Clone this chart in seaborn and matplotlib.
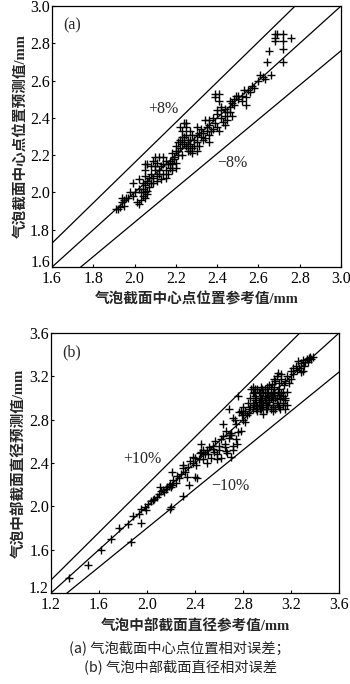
import matplotlib
matplotlib.use("Agg")
import matplotlib.pyplot as plt
import matplotlib.transforms as mtransforms
import seaborn as sns
import numpy as np
import pandas as pd

# ---------------- data (a) ----------------
a_ref = [2.68,2.68,2.68,2.69,2.72,2.72,2.76,2.72,2.65,2.64,2.72,2.66,2.62,2.63,2.61,
         2.55,2.53,2.56,2.58,2.50,2.50,2.52,2.48,2.54,2.47,2.46,2.44,2.42,2.45,2.40,2.39,2.39,2.41,2.41,2.44,2.45,2.43,2.40,2.40,2.41,2.44,2.38,2.36,2.34,2.36,2.35,2.33,2.32,2.32,2.34,2.36,2.31,2.30,2.30,2.29,2.28,2.27,2.25,2.24,2.25,2.23,2.23,2.22,2.24,2.26,2.27,2.28,2.27,2.29,2.25,2.26,2.22,2.21,2.20,2.21,2.19,2.18,2.20,2.18,2.16,2.15,2.14,2.12,2.10,2.11,2.13,2.15,2.16,2.14,2.12,2.13,2.11,2.09,2.10,2.08,2.06,2.05,2.05,2.08,2.07,2.05,2.06,2.05,2.07,2.09,2.04,2.02,2.03,2.05,2.06,2.04,2.03,2.00,1.99,1.98,1.99,2.01,2.02,1.97,1.95,1.94,1.95,1.93,1.92,1.91,1.96,1.94,2.05,2.06,2.18,2.19,2.12,2.17,2.20,2.23,2.30,2.31,2.33,2.36,2.38,2.37,2.42,2.46,2.48,2.49,2.52,2.54,2.57,2.60,2.42,2.47,2.46,2.28,2.30,2.24,2.23,2.21,2.10,2.09,2.14,2.17,2.18,2.02,2.04,2.08,2.11,2.15,2.20,2.26,2.35,2.39,2.25,2.22,2.27]
a_pred = [2.85,2.83,2.81,2.85,2.85,2.81,2.83,2.77,2.76,2.70,2.70,2.63,2.62,2.61,2.63,
          2.55,2.55,2.54,2.56,2.52,2.50,2.49,2.47,2.47,2.48,2.46,2.45,2.46,2.43,2.44,2.51,2.53,2.53,2.49,2.41,2.39,2.38,2.42,2.35,2.33,2.36,2.40,2.39,2.39,2.36,2.33,2.32,2.34,2.30,2.29,2.27,2.32,2.35,2.31,2.28,2.31,2.33,2.35,2.37,2.37,2.33,2.30,2.28,2.27,2.28,2.26,2.24,2.22,2.25,2.25,2.22,2.24,2.22,2.22,2.20,2.18,2.15,2.16,2.12,2.15,2.17,2.19,2.19,2.19,2.16,2.14,2.12,2.10,2.10,2.10,2.07,2.06,2.08,2.12,2.14,2.15,2.15,2.12,2.10,2.08,2.09,2.06,2.04,2.03,2.05,2.02,2.02,2.00,2.00,2.01,1.98,1.96,2.00,1.98,2.00,2.05,1.95,1.94,1.97,1.96,1.95,1.93,1.92,1.91,1.91,1.97,1.97,1.97,1.99,2.21,2.19,2.12,2.13,2.25,2.20,2.27,2.25,2.28,2.31,2.34,2.33,2.40,2.43,2.50,2.52,2.52,2.51,2.57,2.60,2.44,2.41,2.49,2.21,2.22,2.30,2.26,2.27,2.14,2.17,2.15,2.17,2.16,2.07,2.05,2.05,2.09,2.08,2.13,2.24,2.35,2.37,2.31,2.35,2.28]

# ---------------- data (b) ----------------
b_ref = [1.35,1.51,1.62,1.70,1.77,1.84,1.88,1.87,1.95,1.95,1.99,2.01,2.03,2.05,2.08,2.10,2.12,2.11,2.14,2.16,2.18,2.19,2.20,2.21,2.22,2.21,2.20,2.19,2.25,2.28,2.30,2.30,2.32,2.30,2.33,2.35,2.36,2.38,2.38,2.40,2.42,2.40,2.44,2.45,2.45,2.47,2.47,2.48,2.50,2.50,2.52,2.55,2.55,2.57,2.58,2.58,2.60,2.62,2.63,2.63,2.62,2.65,2.65,2.66,2.67,2.68,2.68,2.70,2.70,2.70,2.72,2.72,2.73,2.74,2.75,2.76,2.74,2.77,2.76,2.78,2.79,2.80,2.80,2.82,2.84,2.82,2.85,2.86,2.86,2.88,2.88,2.88,2.88,2.90,2.90,2.92,2.92,2.92,2.94,2.94,2.95,2.96,2.96,2.97,2.98,2.98,3.00,3.00,3.00,3.00,3.02,3.02,3.03,3.04,3.04,3.05,3.05,3.06,3.06,3.07,3.08,3.08,3.08,3.10,3.10,3.10,3.11,3.12,3.12,3.13,3.14,3.15,3.15,3.15,3.17,3.18,3.20,3.20,3.22,3.22,3.24,3.25,3.26,3.27,3.28,3.30,3.30,3.31,3.32,3.33,3.35,3.36,3.37,3.38,3.34,3.28,3.06,3.09,2.95,2.98,3.02,2.87,2.90,3.12,3.13,3.10,3.05,2.93,2.91,3.01,2.99,2.96,2.94,2.85,2.83,2.80,2.78,2.72,2.69,2.66,2.60,2.56,2.53,2.51,2.43,2.41,2.34,2.27,2.24,2.17,2.13,2.06,1.98,1.93,
         2.89,2.93,2.97,3.01,3.05,3.09,3.13,3.17,2.89,2.93,2.97,3.01,3.05,3.09,3.13,3.17,2.91,2.95,2.99,3.03,3.07,3.11,3.15,2.91,2.95,2.99,3.03,3.07,3.11]
b_pred = [1.34,1.46,1.60,1.70,1.80,1.84,1.91,1.67,1.85,1.98,1.97,2.02,2.05,2.06,2.09,2.11,2.14,2.18,2.13,2.16,2.19,2.21,2.18,2.20,2.24,2.32,1.99,1.98,2.28,2.30,2.35,2.38,2.32,2.10,2.27,2.20,2.42,2.40,2.46,2.45,2.26,2.27,2.49,2.50,2.58,2.44,2.52,2.48,2.52,2.40,2.55,2.56,2.53,2.60,2.48,2.44,2.56,2.62,2.76,2.65,2.45,2.58,2.55,2.51,2.49,2.63,2.90,2.68,2.66,2.46,2.56,2.52,2.80,2.76,2.58,2.69,2.62,2.87,3.02,2.70,2.84,2.92,2.80,2.88,2.95,2.78,2.86,3.00,2.92,3.05,3.10,2.90,2.95,3.02,2.98,3.08,2.93,2.88,3.05,3.00,2.96,3.08,2.92,2.85,3.02,2.98,3.05,3.10,2.94,2.90,3.00,2.96,3.08,3.13,3.02,2.92,2.88,3.05,3.10,3.16,3.20,3.00,2.95,3.14,3.08,3.03,2.99,3.22,3.18,3.02,3.12,3.16,2.98,2.90,3.20,3.14,3.18,3.25,3.28,3.22,3.30,3.26,3.34,3.28,3.32,3.35,3.25,3.30,3.33,3.36,3.37,3.38,3.36,3.38,3.33,3.24,3.18,3.23,3.10,3.08,3.12,3.08,3.08,3.05,2.95,2.92,2.98,2.96,2.93,3.02,2.95,3.00,2.90,2.90,2.84,2.86,2.88,2.82,2.66,2.70,2.52,2.50,2.45,2.48,2.44,2.38,2.36,2.26,2.22,2.18,2.15,2.07,1.99,1.93,
          3.06,3.06,3.06,3.06,3.06,3.06,3.06,3.06,2.94,2.94,2.94,2.94,2.94,2.94,2.94,2.94,3.00,3.00,3.00,3.00,3.00,3.00,3.00,2.90,2.90,2.90,2.90,2.90,2.90]

a_lim = (1.6, 3.0)
a_ticks = [1.6, 1.8, 2.0, 2.2, 2.4, 2.6, 2.8, 3.0]
b_lim = (1.2, 3.6)
b_ticks = [1.2, 1.6, 2.0, 2.4, 2.8, 3.2, 3.6]
a_err = 0.08
b_err = 0.10

a_xlabel = "气泡截面中心点位置参考值/mm"
a_ylabel = "气泡截面中心点位置预测值/mm"
b_xlabel = "气泡中部截面直径参考值/mm"
b_ylabel = "气泡中部截面直径预测值/mm"
caption1 = "(a) 气泡截面中心点位置相对误差；"
caption2 = "(b) 气泡中部截面直径相对误差"

sns.set_theme(style="ticks")
plt.rcParams['font.family'] = ['Liberation Serif', 'Noto Sans CJK SC']

fig = plt.figure(figsize=(3.5, 6.84), dpi=100)
ax1 = fig.add_axes([0.1486, 0.6096, 0.8257, 0.3816])
ax2 = fig.add_axes([0.1457, 0.1330, 0.8230, 0.3801])

label_font = ['Liberation Serif', 'Noto Sans CJK SC']

def panel(ax, xs, ys, lim, ticks, err, xlabel, ylabel, tag, plus_pos, minus_pos):
    df = pd.DataFrame({"ref": xs, "pred": ys})
    line = np.array(lim)
    ax.plot(line, line, color='black', lw=0.9)
    ax.plot(line, line * (1 + err), color='black', lw=0.9)
    ax.plot(line, line * (1 - err), color='black', lw=0.9)
    sns.scatterplot(data=df, x="ref", y="pred", marker='+', s=36, color='black',
                    linewidth=1.0, ax=ax, legend=False)
    ax.set_xlim(*lim)
    ax.set_ylim(*lim)
    ax.set_xticks(ticks)
    ax.set_yticks(ticks)
    ax.set_xticklabels([f"{t:.1f}" for t in ticks])
    ax.set_yticklabels([f"{t:.1f}" for t in ticks])
    ax.tick_params(direction='in', length=2.5, width=0.8, labelsize=11.5,
                   colors='black')
    ax.tick_params(axis='x', pad=3)
    ax.tick_params(axis='y', pad=1.5)
    # lift the lowest y tick label a little so it clears the x tick label
    lowest = ax.get_yticklabels()[0]
    lowest.set_transform(lowest.get_transform() +
                         mtransforms.ScaledTranslation(0, 4 / 72, fig.dpi_scale_trans))
    for sp in ax.spines.values():
        sp.set_linewidth(0.9)
        sp.set_color('black')
    ax.set_xlabel(xlabel, family=label_font, fontsize=10.5, fontweight='bold', labelpad=4)
    ax.set_ylabel(ylabel, family=label_font, fontsize=10.5, fontweight='bold', labelpad=2)
    ax.text(0.04, 0.955, tag, transform=ax.transAxes, fontsize=11.5, va='top', ha='left')
    ax.text(plus_pos[0], plus_pos[1], f"+{int(err*100)}%", fontsize=11.5,
            ha='center', va='center')
    ax.text(minus_pos[0], minus_pos[1], f"\u2212{int(err*100)}%", fontsize=11.5,
            ha='center', va='center')

panel(ax1, a_ref, a_pred, a_lim, a_ticks, a_err, a_xlabel, a_ylabel, "(a)",
      (2.14, 2.45), (2.475, 2.16))
panel(ax2, b_ref, b_pred, b_lim, b_ticks, b_err, b_xlabel, b_ylabel, "(b)",
      (1.96, 2.44), (2.69, 2.19))

cap_font = ['Noto Sans CJK SC', 'DejaVu Sans']
fig.text(0.512, 1 - 648 / 684, caption1, family=cap_font, fontsize=10.3,
         ha='center', va='center', color='#222222')
fig.text(0.515, 1 - 668 / 684, caption2, family=cap_font, fontsize=10.3,
         ha='center', va='center', color='#222222')

fig.savefig("out.png", dpi=100)
